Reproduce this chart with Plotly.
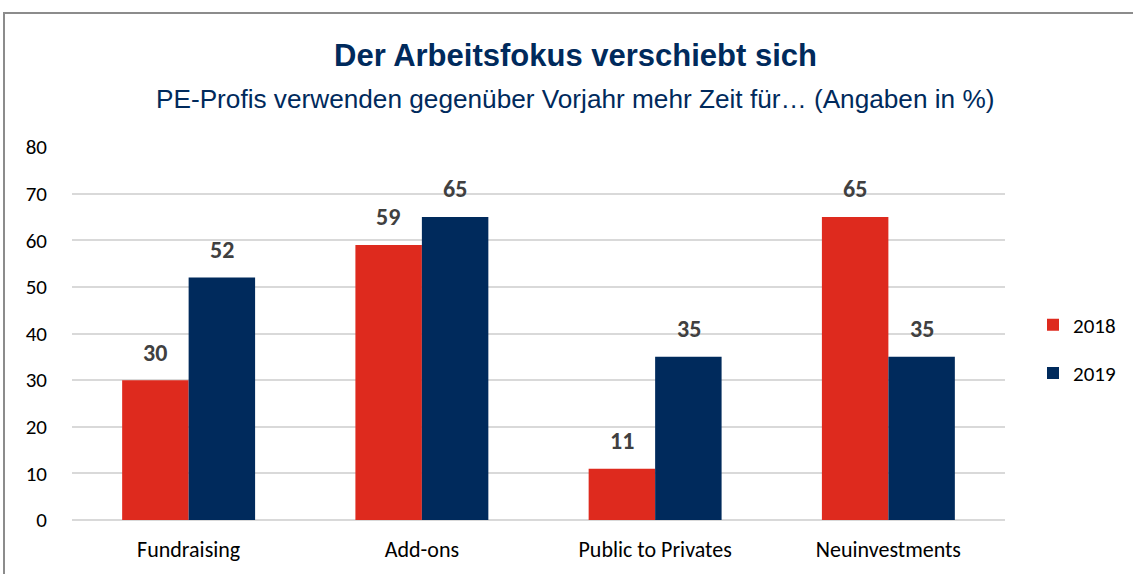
import plotly.graph_objects as go

categories = ["Fundraising", "Add-ons", "Public to Privates", "Neuinvestments"]
values_2018 = [30, 59, 11, 65]
values_2019 = [52, 65, 35, 35]
series_names = ["2018", "2019"]
colors = ["#DE2A1E", "#002A5C"]
y_ticks = [0, 10, 20, 30, 40, 50, 60, 70, 80]

W, H = 1133, 574
ml, mr, mt, mb = 72, 128, 147, 54
pw = W - ml - mr
ph = H - mt - mb

BODY = "Carlito, Lato, sans-serif"
NARROW = "Liberation Sans Narrow, Arial Narrow, Liberation Sans, sans-serif"


def px_x(pix):
    return (pix - ml) / pw


def px_y(pix):
    return (H - mb - pix) / ph


fig = go.Figure()
for name, vals, col in zip(series_names, [values_2018, values_2019], colors):
    fig.add_trace(go.Bar(
        x=categories, y=vals, name=name, legendgroup=name,
        marker=dict(color=col, line=dict(width=0)),
    ))

annotations = []
for vals, shift in zip([values_2018, values_2019], [-33.5, 33.5]):
    for c, v in zip(categories, vals):
        annotations.append(dict(
            x=c, y=v, xref="x", yref="y", text=f"<b>{v}</b>", showarrow=False,
            xshift=shift, yshift=28, font=dict(family=BODY, size=24, color="#404040"),
        ))

annotations.append(dict(
    x=px_x(575), y=px_y(55), xref="paper", yref="paper", xanchor="center", yanchor="middle",
    text="<b>Der Arbeitsfokus verschiebt sich</b>", showarrow=False,
    font=dict(family=NARROW, size=31, color="#002A5C"),
))
annotations.append(dict(
    x=px_x(575), y=px_y(99), xref="paper", yref="paper", xanchor="center", yanchor="middle",
    text="PE-Profis verwenden gegenüber Vorjahr mehr Zeit für… (Angaben in %)", showarrow=False,
    font=dict(family=NARROW, size=26.2, color="#002A5C"),
))

fig.update_layout(
    width=W, height=H,
    margin=dict(l=ml, r=mr, t=mt, b=mb, autoexpand=False),
    paper_bgcolor="white", plot_bgcolor="white",
    barmode="group", bargap=0.43, bargroupgap=0,
    font=dict(family=BODY, size=21, color="#000000"),
    xaxis=dict(showgrid=False, showline=False, ticks="", automargin=False, ticklabelstandoff=14,
               tickfont=dict(family=BODY, size=22, color="#000000")),
    yaxis=dict(range=[0, 80], tickvals=y_ticks, showgrid=True, gridcolor="#D9D9D9", gridwidth=1.5,
               zeroline=True, zerolinecolor="#D9D9D9", zerolinewidth=1.5, automargin=False,
               ticks="", ticklabelstandoff=24, tickfont=dict(family=BODY, size=21, color="#000000")),
    legend=dict(x=px_x(1033), y=px_y(349), xanchor="left", yanchor="middle",
                font=dict(family=BODY, size=21, color="#000000"),
                itemwidth=30, tracegroupgap=18, bgcolor="rgba(0,0,0,0)"),
    showlegend=True,
    annotations=annotations,
)

fig.add_shape(type="rect", xref="paper", yref="paper",
              x0=px_x(4), x1=px_x(1140), y0=px_y(590), y1=px_y(13),
              line=dict(color="#8C8C8C", width=2), fillcolor="rgba(0,0,0,0)", layer="below")

fig.write_html("out.html", config={"displayModeBar": False},
               post_script="document.body.style.margin='0';document.body.style.overflow='hidden';")
